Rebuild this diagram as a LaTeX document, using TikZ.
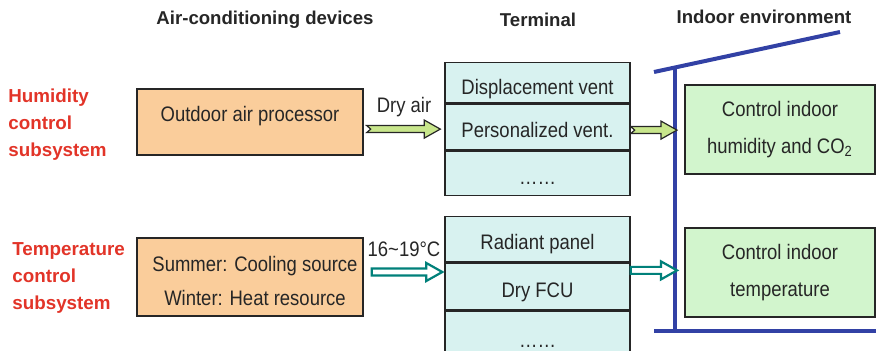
\documentclass[tikz,border=0pt]{standalone}
\usepackage{fontspec}
\setmainfont{Liberation Sans}[FakeStretch=0.88]
\newfontfamily\headfont{Liberation Sans}
\usepackage{tikz}
\usetikzlibrary{calc}
\definecolor{procorange}{RGB}{250,205,155}
\definecolor{termcyan}{RGB}{216,242,240}
\definecolor{roomgreen}{RGB}{210,245,205}
\definecolor{airgreen}{RGB}{200,230,140}
\definecolor{watercyan}{RGB}{0,128,122}
\definecolor{wallblue}{RGB}{50,65,165}
\definecolor{subred}{RGB}{226,52,40}
\tikzset{head/.style={font=\headfont\bfseries\fontsize{9.3}{11}\selectfont, text=black!85, inner sep=0pt},
  sub/.style={font=\headfont\bfseries\fontsize{9.4}{13.5}\selectfont, text=subred, align=left, inner sep=0pt, anchor=west},
  box/.style={draw=black!85, line width=0.7pt, inner sep=0pt, align=center, text=black!85},
  proc/.style={box, fill=procorange, minimum width=113pt},
  cell/.style={box, fill=termcyan, minimum width=92.5pt, anchor=north, text height=11pt, text depth=0.2pt,
    font=\fontsize{10.5}{12}\selectfont},
  room/.style={box, fill=roomgreen, minimum width=95pt, minimum height=44.5pt, font=\fontsize{10.5}{18.5}\selectfont},
  lbl/.style={font=\fontsize{10.5}{12}\selectfont, text=black!85, inner sep=0pt},
  airarrow/.style={draw=black!85, fill=airgreen, line width=0.6pt},
  waterarrow/.style={draw=watercyan, fill=white, line width=1.1pt},
  wall/.style={draw=wallblue, line width=2pt}}
% block arrow: style, from, to, tail notch
\newcommand{\blockarrow}[4]{%
  \draw[#1] let \p1=#2, \p2=#3 in
    (\x1,\y1+1.75pt) -- (\x2-8pt,\y1+1.75pt) -- (\x2-8pt,\y1+4.5pt) -- (\x2,\y1)
    -- (\x2-8pt,\y1-4.5pt) -- (\x2-8pt,\y1-1.75pt) -- (\x1,\y1-1.75pt) -- (\x1+#4,\y1) -- cycle;}

\begin{document}
\begin{tikzpicture}[x=0.5pt, y=-0.5pt]
  \useasboundingbox (0,0) rectangle (876,351);

  % column headings
  \node[head] (hdev) at (265,20) {Air-conditioning devices};
  \node[head] (hterm) at (538,20) {Terminal};
  \node[head] (hroom) at (764,17) {Indoor environment};

  % subsystems
  \node[sub] (hum) at (8,125) {Humidity\\control\\subsystem};
  \node[sub] (temp) at (12,278) {Temperature\\control\\subsystem};

  % devices
  \node[proc, minimum height=33pt, text height=7.5pt, text depth=8pt, font=\fontsize{10.5}{12}\selectfont] (oap) at (250,122) {Outdoor air processor};
  \node[proc, minimum height=39pt, font=\fontsize{10.5}{17}\selectfont] (src) at (250,277)
    {\rule{0pt}{11.5pt}\hspace*{5pt}Summer: Cooling source\\\hspace*{5pt}Winter: Heat resource};

  % terminals
  \node[cell, minimum height=20pt, text height=12pt] (t1a) at (537.5,62) {Displacement vent};
  \node[cell, minimum height=23pt] (t1b) at (t1a.south) {Personalized vent.};
  \node[cell, minimum height=22pt] (t1c) at (t1b.south) {……};
  \node[cell, minimum height=22.5pt] (t2a) at (537.5,216) {Radiant panel};
  \node[cell, minimum height=23.5pt] (t2b) at (t2a.south) {Dry FCU};
  \node[cell, minimum height=25pt] (t2c) at (t2b.south) {……};

  % building
  \coordinate (rl) at (654,72);
  \coordinate (rr) at (840,32);
  \coordinate (wtop) at (675,67.5);
  \coordinate (wbot) at (675,331);
  \coordinate (fl) at (654,331);
  \coordinate (fr) at (876,331);
  \draw[wall] (rl) -- (rr);
  \draw[wall] (wtop) -- (wbot);
  \draw[wall] (fl) -- (fr);

  % indoor environment
  \node[room] (hco) at (780,129.5) {Control indoor\\humidity and CO\textsubscript{2}};
  \node[room] (tin) at (780,272.5) {Control indoor\\temperature};

  % flows
  \coordinate (s1) at ($(oap.east |- t1b.west)+(3,2)$);
  \coordinate (s3) at ($(src.east)+(8,-5)$);
  \coordinate (s4) at ($(t2b.north east)+(0,8)$);
  \blockarrow{airarrow}{(s1)}{($(t1b.west |- s1)+(-4,0)$)}{2pt}
  \blockarrow{airarrow}{($(t1b.east)+(0,3)$)}{($(wtop |- t1b.east)+(2,3)$)}{2pt}
  \blockarrow{waterarrow}{(s3)}{($(t2b.west |- s3)+(-2,0)$)}{0pt}
  \blockarrow{waterarrow}{(s4)}{($(wtop |- s4)+(2,0)$)}{0pt}
  \node[lbl] (dry) at (404,107) {Dry air};
  \node[lbl] (tsup) at (404,249) {16\textasciitilde19°C};
\end{tikzpicture}
\end{document}
